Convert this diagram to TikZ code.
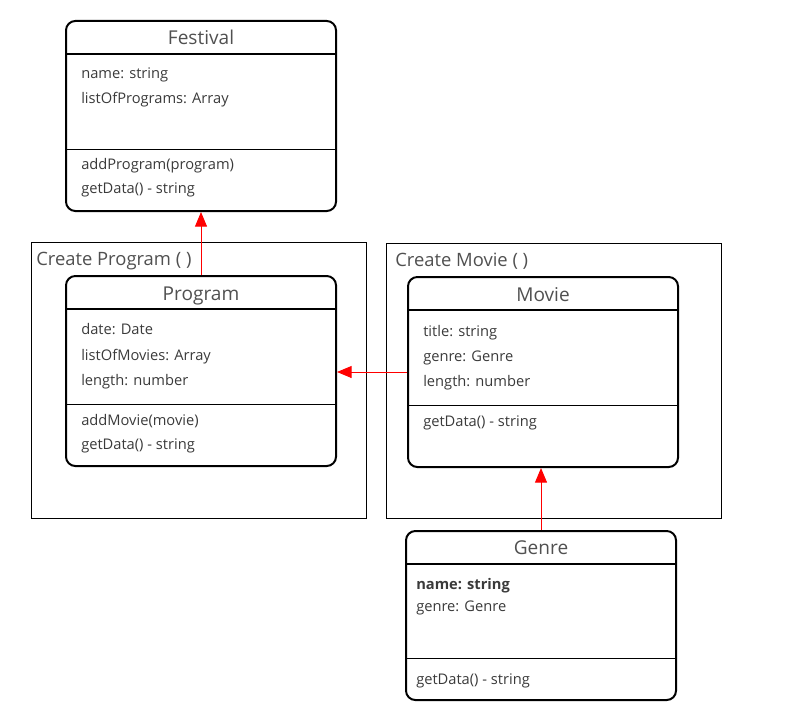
\documentclass[tikz,border=0pt]{standalone}
\usepackage{fontspec}
\setmainfont{Open Sans}
\usetikzlibrary{arrows.meta}
\definecolor{tekst}{HTML}{3A3A3A}
\definecolor{titel}{HTML}{505050}
\begin{document}
\begin{tikzpicture}[x=0.75pt,y=-0.75pt,
    klasse/.style={draw, line width=1.5pt, rounded corners=7pt, inner sep=0pt,
                   minimum width=202.5pt, minimum height=142.5pt},
    titeltekst/.style={anchor=base, inner sep=0pt, text=titel, font=\fontsize{14.3}{16}\selectfont},
    felt/.style={anchor=base west, inner sep=0pt, text=tekst, font=\fontsize{11}{13}\selectfont},
    ramme/.style={anchor=base west, inner sep=0pt, text=titel, font=\fontsize{13.8}{16}\selectfont},
    pil/.style={red, line width=0.75pt, -{Triangle[length=11pt,width=9pt]}}]

    \useasboundingbox (0,0) rectangle (787,720);

    % Rammer
    \path[draw, line width=0.6pt] (31,242) rectangle (366,518) % Create Program
                                  (386,243) rectangle (721,518); % Create Movie
    \node[ramme] (rammeProgram) at (36,265) {Create Program ( )};
    \node[ramme] (rammeMovie) at (395,266) {Create Movie ( )};

    % Festival
    \node[klasse] (festival) at (201,116) {};
    \path[draw, line width=1.2pt] (66,54) -- (336,54);
    \path[draw, line width=0.6pt] (66,149) -- (336,149);
    \node[titeltekst] (festivalTitel) at (201,45) {Festival};
    \node[felt] (festivalNavn) at (81,79) {name: string};
    \node[felt] (festivalListe) at (81,104) {listOfPrograms: Array};
    \node[felt] (festivalAdd) at (81,170) {addProgram(program)};
    \node[felt] (festivalData) at (81,194) {getData() - string};

    % Program
    \node[klasse] (program) at (201,371) {};
    \path[draw, line width=1.2pt] (66,309) -- (336,309);
    \path[draw, line width=0.6pt] (66,404) -- (336,404);
    \node[titeltekst] (programTitel) at (201,300) {Program};
    \node[felt] (programDato) at (81,334) {date: Date};
    \node[felt] (programListe) at (81,360) {listOfMovies: Array};
    \node[felt] (programLaengde) at (81,385) {length: number};
    \node[felt] (programAdd) at (81,425) {addMovie(movie)};
    \node[felt] (programData) at (81,449) {getData() - string};

    % Movie
    \node[klasse] (movie) at (543,372) {};
    \path[draw, line width=1.2pt] (408,310) -- (678,310);
    \path[draw, line width=0.6pt] (408,405) -- (678,405);
    \node[titeltekst] (movieTitel) at (543,301) {Movie};
    \node[felt] (movieTitle) at (423,336) {title: string};
    \node[felt] (movieGenre) at (423,361) {genre: Genre};
    \node[felt] (movieLaengde) at (423,386) {length: number};
    \node[felt] (movieData) at (423,426) {getData() - string};

    % Genre
    \node[klasse, minimum height=126.75pt] (genre) at (541,615.5) {};
    \path[draw, line width=1.2pt] (406,564) -- (676,564);
    \path[draw, line width=0.6pt] (406,658) -- (676,658);
    \node[titeltekst] (genreTitel) at (541,554) {Genre};
    \node[felt, font=\fontsize{11}{13}\selectfont\bfseries] (genreNavn) at (416,589) {name: string};
    \node[felt] (genreGenre) at (416,611) {genre: Genre};
    \node[felt] (genreData) at (416,684) {getData() - string};

    % Pile
    \draw[pil] (program.north) -- (festival.south);
    \draw[pil] (movie.west) -- (movie.west -| program.east);
    \draw[pil] (genre.north) -- (genre.north |- movie.south);
\end{tikzpicture}
\end{document}
